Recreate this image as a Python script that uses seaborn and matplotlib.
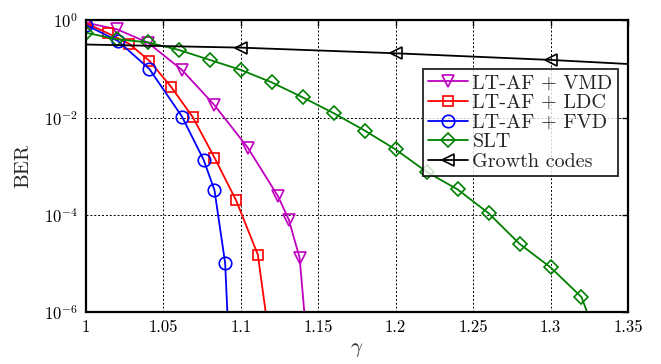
import numpy as np
import pandas as pd
import matplotlib
matplotlib.use("Agg")
import matplotlib.pyplot as plt
import seaborn as sns

# ---- data ----
vmd_x = [1.0, 1.02, 1.04, 1.062, 1.083, 1.1045, 1.124, 1.131, 1.138, 1.145]
vmd_y = [0.9, 0.66, 0.35, 0.096, 0.018, 0.0024, 2.4e-4, 7.9e-5, 1.28e-5, 3.3e-8]

ldc_x = [1.0, 1.014, 1.028, 1.041, 1.055, 1.069, 1.083, 1.097, 1.111, 1.125]
ldc_y = [0.88, 0.55, 0.33, 0.147, 0.043, 0.0102, 0.0015, 1.96e-4, 1.5e-5, 8e-9]

fvd_x = [1.0, 1.0206, 1.041, 1.062, 1.076, 1.083, 1.0899, 1.097]
fvd_y = [0.81, 0.38, 0.10, 0.0105, 0.00135, 3.2e-4, 1.0e-5, 1e-10]

slt_x = [1.0, 1.02, 1.04, 1.06, 1.08, 1.10, 1.12, 1.14, 1.16, 1.18, 1.20,
         1.22, 1.24, 1.26, 1.28, 1.30, 1.32, 1.34]
slt_y = [0.56, 0.41, 0.355, 0.247, 0.154, 0.096, 0.053, 0.026, 0.0123, 0.0054,
         0.0022, 7.6e-4, 3.3e-4, 1.07e-4, 2.5e-5, 8.2e-6, 2.0e-6, 4e-8]

gc_x = [1.0, 1.10, 1.20, 1.30, 1.35]
gc_y = [0.32, 0.276, 0.211, 0.154, 0.127]

labels = ["LT-AF + VMD", "LT-AF + LDC", "LT-AF + FVD", "SLT", "Growth codes"]
xtick_vals = [1.0, 1.05, 1.1, 1.15, 1.2, 1.25, 1.3, 1.35]
xtick_labels = ["1", "1.05", "1.1", "1.15", "1.2", "1.25", "1.3", "1.35"]
ytick_vals = [1e0, 1e-2, 1e-4, 1e-6]

# ---- style ----
sns.set_style("white")
plt.rcParams["font.family"] = ["cmr10", "DejaVu Serif"]
plt.rcParams["mathtext.fontset"] = "cm"
plt.rcParams["axes.formatter.use_mathtext"] = True

fig = plt.figure(figsize=(6.61, 3.64), dpi=100)
ax = fig.add_axes([0.130, 0.1437, 0.820, 0.800])

series = [
    (vmd_x, vmd_y, "v", "#c000c0", labels[0]),
    (ldc_x, ldc_y, "s", "#ff0000", labels[1]),
    (fvd_x, fvd_y, "o", "#0000ff", labels[2]),
    (slt_x, slt_y, "D", "#008000", labels[3]),
]
for x, y, m, c, lab in series:
    df = pd.DataFrame({"x": x, "y": y})
    ms = 9 if m in ("v", "o") else 7.5
    sns.lineplot(data=df, x="x", y="y", ax=ax, sort=False, color=c, marker=m,
                 markersize=ms, markerfacecolor="none", markeredgecolor=c,
                 markeredgewidth=1.2, linewidth=1.3, label=lab)

df = pd.DataFrame({"x": gc_x, "y": gc_y})
sns.lineplot(data=df, x="x", y="y", ax=ax, sort=False, color="black", marker="<",
             markersize=9, markerfacecolor="none", markeredgecolor="black",
             markeredgewidth=1.2, linewidth=1.3, label=labels[4],
             markevery=[1, 2, 3])

ax.set_yscale("log")
ax.set_xlim(1.0, 1.35)
ax.set_ylim(1e-6, 1e0)
ax.set_xticks(xtick_vals)
ax.set_xticklabels(xtick_labels)
ax.set_yticks(ytick_vals)
ax.yaxis.set_minor_locator(matplotlib.ticker.NullLocator())
ax.tick_params(axis="both", which="both", direction="in", top=True, right=True,
               labelsize=12, length=4, width=1, colors="black", pad=6)
ax.grid(True, which="major", linestyle=(0, (2, 2)), color="black", linewidth=0.7)
for s in ax.spines.values():
    s.set_visible(True)
    s.set_color("black")
    s.set_linewidth(1.6)

ax.set_xlabel(r"$\gamma$", fontsize=15, labelpad=4)
ax.set_ylabel("BER", fontsize=15, labelpad=8)

leg = ax.legend(loc="upper left", bbox_to_anchor=(0.622, 0.833), fontsize=14.5,
                frameon=True, fancybox=False, edgecolor="black",
                borderpad=0.25, labelspacing=0.08, handlelength=2.0,
                handletextpad=0.2, borderaxespad=0)
leg.get_frame().set_linewidth(1.4)

fig.savefig("out.png", dpi=100)
